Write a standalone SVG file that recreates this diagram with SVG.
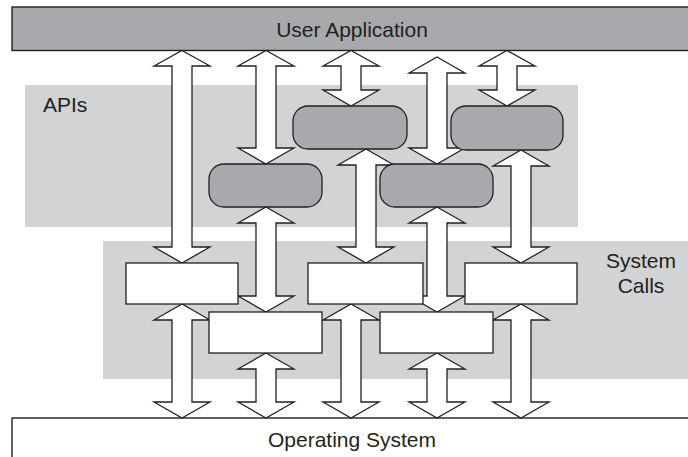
<svg xmlns="http://www.w3.org/2000/svg" width="688" height="457" viewBox="0 0 688 457">
<style>
.lbl{font-family:"Liberation Sans",Arial,sans-serif;font-size:21px;fill:#231f20}
.panel{fill:#d1d3d4}
.bar{fill:#a7a9ac;stroke:#231f20;stroke-width:1.4}
.os{fill:#ffffff;stroke:#231f20;stroke-width:1.4}
.api{fill:#a7a9ac;stroke:#231f20;stroke-width:1.3}
.sys{fill:#ffffff;stroke:#231f20;stroke-width:1.3}
.arr{fill:#ffffff;stroke:#231f20;stroke-width:1.3;stroke-linejoin:miter}
</style>
<g id="apis-layer">
<rect class="panel" x="25" y="85" width="553" height="142"/>
<text class="lbl" x="43" y="112">APIs</text>
</g>
<g id="syscalls-layer">
<rect class="panel" x="103" y="241" width="590" height="138"/>
<text class="lbl" x="641" y="268" text-anchor="middle">System</text>
<text class="lbl" x="641" y="293" text-anchor="middle">Calls</text>
</g>
<g id="user-application">
<rect class="bar" x="12" y="7" width="690" height="43.5"/>
<text class="lbl" x="352" y="37" text-anchor="middle">User Application</text>
</g>
<g id="operating-system">
<rect class="os" x="12" y="418" width="690" height="50"/>
<text class="lbl" x="352" y="447" text-anchor="middle">Operating System</text>
</g>
<g id="connectors">
<polygon class="arr" points="182,50.5 210,66 192,66 192,247 210,247 182,263 154,247 172,247 172,66 154,66"/>
<polygon class="arr" points="266,50.5 294,66 276,66 276,148 294,148 266,164 238,148 256,148 256,66 238,66"/>
<polygon class="arr" points="351,50.5 379,66 361,66 361,90 379,90 351,106 323,90 341,90 341,66 323,66"/>
<polygon class="arr" points="437,57 465,73 447,73 447,148 465,148 437,164 409,148 427,148 427,73 409,73"/>
<polygon class="arr" points="507,50.5 535,66 517,66 517,90 535,90 507,106 479,90 497,90 497,66 479,66"/>
<polygon class="arr" points="266,207 294,223 276,223 276,296 294,296 266,312 238,296 256,296 256,223 238,223"/>
<polygon class="arr" points="366,149 394,165 376,165 376,247 394,247 366,263 338,247 356,247 356,165 338,165"/>
<polygon class="arr" points="437,207 465,223 447,223 447,296 465,296 437,312 409,296 427,296 427,223 409,223"/>
<polygon class="arr" points="521,150 549,166 531,166 531,247 549,247 521,263 493,247 511,247 511,166 493,166"/>
<polygon class="arr" points="182,304 210,320 192,320 192,402 210,402 182,418 154,402 172,402 172,320 154,320"/>
<polygon class="arr" points="266,353 294,369 276,369 276,402 294,402 266,418 238,402 256,402 256,369 238,369"/>
<polygon class="arr" points="351,304 379,320 361,320 361,402 379,402 351,418 323,402 341,402 341,320 323,320"/>
<polygon class="arr" points="437,353 465,369 447,369 447,402 465,402 437,418 409,402 427,402 427,369 409,369"/>
<polygon class="arr" points="521,304 549,320 531,320 531,402 549,402 521,418 493,402 511,402 511,320 493,320"/>
</g>
<g id="api-1"><rect class="api" x="293" y="106" width="114" height="43" rx="15"/></g>
<g id="api-2"><rect class="api" x="451" y="106" width="112" height="44" rx="15"/></g>
<g id="api-3"><rect class="api" x="209" y="164" width="113" height="43" rx="15"/></g>
<g id="api-4"><rect class="api" x="380" y="164" width="113" height="43" rx="15"/></g>
<g id="sys-1"><rect class="sys" x="126" y="263" width="112" height="41"/></g>
<g id="sys-2"><rect class="sys" x="308" y="263" width="115" height="41"/></g>
<g id="sys-3"><rect class="sys" x="465" y="263" width="112" height="41"/></g>
<g id="sys-4"><rect class="sys" x="209" y="312" width="113" height="41"/></g>
<g id="sys-5"><rect class="sys" x="380" y="312" width="113" height="41"/></g>
</svg>
